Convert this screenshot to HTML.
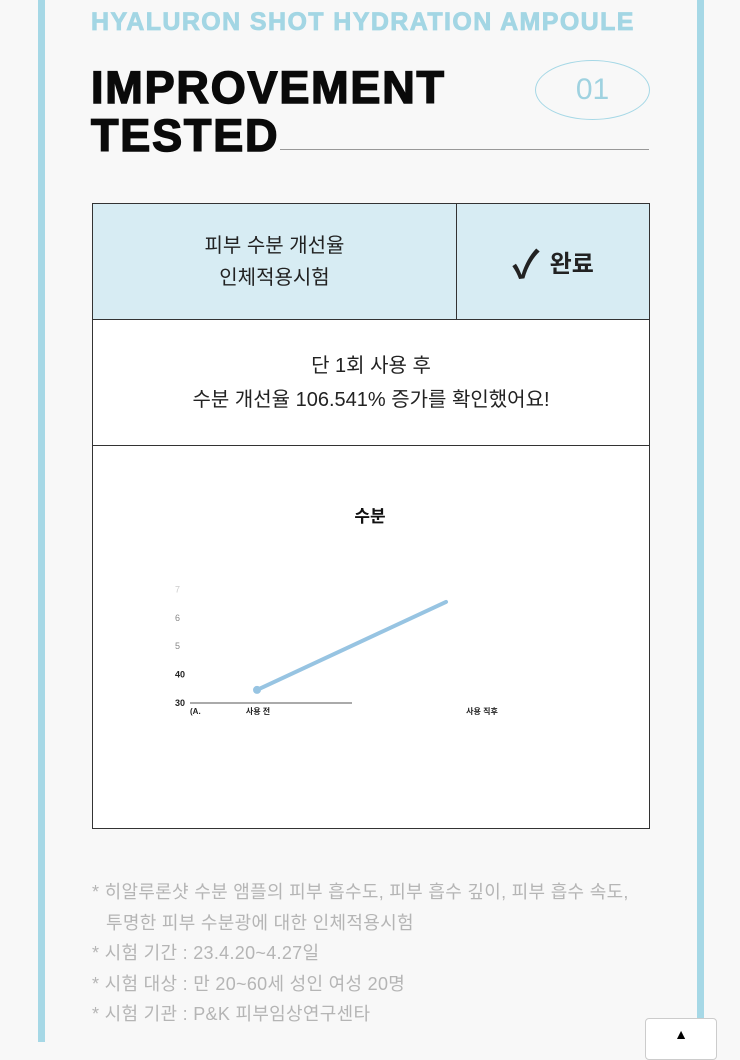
<!DOCTYPE html>
<html><head><meta charset="utf-8">
<style>
body{margin:0;width:740px;height:1042px;background:#f8f8f8;position:relative;overflow:hidden;font-family:"Liberation Sans","Noto Sans CJK KR",sans-serif}
.abs{position:absolute}
.bar{background:#a6d8e6;width:7px;top:0;height:1042px}
.cell{position:absolute;border:1px solid #333;box-sizing:border-box;display:flex;align-items:center;justify-content:center;text-align:center;color:#222}
.note{position:absolute;left:92px;color:#b5b5b5;font-size:18px;letter-spacing:0.3px;white-space:nowrap}
</style></head><body>
<div class="abs bar" style="left:38px"></div>
<div class="abs bar" style="left:697px"></div>
<div class="abs" style="left:91px;top:8px;font-size:25px;font-weight:bold;color:#a3d6e4;letter-spacing:1.4px;-webkit-text-stroke:0.8px #a3d6e4">HYALURON SHOT HYDRATION AMPOULE</div>
<div class="abs" style="left:91px;top:64px;font-size:45px;font-weight:900;line-height:48px;color:#0a0a0a;letter-spacing:1.8px;-webkit-text-stroke:1.5px #0a0a0a">IMPROVEMENT<br>TESTED</div>
<div class="abs" style="left:280px;top:149px;width:369px;height:1px;background:#999"></div>
<div class="abs" style="left:535px;top:60px;width:115px;height:60px;border:1.5px solid #a6d8e6;border-radius:50%;box-sizing:border-box;color:#9fd2e0;font-size:30px;display:flex;align-items:center;justify-content:center">01</div>

<div class="cell" style="left:92px;top:203px;width:365px;height:117px;background:#d7ecf3;font-size:20px;line-height:32px">피부 수분 개선율<br>인체적용시험</div>
<div class="cell" style="left:456px;top:203px;width:194px;height:117px;background:#d7ecf3;font-size:24px;font-weight:bold"><span style="font-size:38px;margin-right:10px">✓</span>완료</div>
<div class="cell" style="left:92px;top:319px;width:558px;height:127px;background:#fff;font-size:20px;line-height:34px">단 1회 사용 후<br>수분 개선율 106.541% 증가를 확인했어요!</div>
<div class="cell" style="left:92px;top:445px;width:558px;height:384px;background:#fff"></div>

<svg class="abs" style="left:0;top:0" width="740" height="1042">
<text x="370" y="522" text-anchor="middle" font-size="17" font-weight="bold" fill="#111">수분</text>
<g id="ticks"></g>
<line x1="190" y1="703" x2="352" y2="703" stroke="#555" stroke-width="1"/>
<text x="190" y="714" font-size="8" font-weight="bold" fill="#222">(A.</text>
<g id="xl"></g>
<g id="series"></g>
</svg>

<div class="note" style="top:878px">* 히알루론샷 수분 앰플의 피부 흡수도, 피부 흡수 깊이, 피부 흡수 속도,</div>
<div class="note" style="top:909px;left:106px">투명한 피부 수분광에 대한 인체적용시험</div>
<div class="note" style="top:939px">* 시험 기간 : 23.4.20~4.27일</div>
<div class="note" style="top:970px">* 시험 대상 : 만 20~60세 성인 여성 20명</div>
<div class="note" style="top:1000px">* 시험 기관 : P&amp;K 피부임상연구센타</div>
<div class="abs" style="left:645px;top:1018px;width:70px;height:40px;background:#fff;border:1px solid #ccc;border-radius:4px;text-align:center;font-size:14px;line-height:30px">▲</div>

<script>
const categories=["사용 전","사용 직후"];
const values=[34.6,65.6];
const yTicks=[30,40,50,60,70];
const yTickLabels=["30","40","5","6","7"];
const NS="http://www.w3.org/2000/svg";
const y=v=>703-(v-30)*2.84;
const xPos=[257,446];
const xLabelPos=[258,482];
const x=i=>xPos[i];
const tg=document.getElementById('ticks');
yTicks.forEach((t,i)=>{const e=document.createElementNS(NS,'text');


e.setAttribute('x',175);e.setAttribute('y',y(t)+3);e.setAttribute('font-size','9');
e.setAttribute('font-weight',i<2?'bold':'normal');e.setAttribute('fill',i<2?'#222':(i==4?'#ccc':'#888'));
e.textContent=yTickLabels[i];tg.appendChild(e);});
const xl=document.getElementById('xl');
categories.forEach((c,i)=>{const e=document.createElementNS(NS,'text');


e.setAttribute('x',xLabelPos[i]);e.setAttribute('y',714);e.setAttribute('font-size','8');e.setAttribute('font-weight','bold');
e.setAttribute('text-anchor','middle');e.setAttribute('fill','#222');e.textContent=c;xl.appendChild(e);});
const sg=document.getElementById('series');
const l=document.createElementNS(NS,'line');


l.setAttribute('x1',x(0));l.setAttribute('y1',y(values[0]));l.setAttribute('x2',x(1));l.setAttribute('y2',y(values[1]));
l.setAttribute('stroke','#97c4e2');l.setAttribute('stroke-width','4');l.setAttribute('stroke-linecap','round');sg.appendChild(l);
const p=document.createElementNS(NS,'circle');


p.setAttribute('cx',x(0));p.setAttribute('cy',y(values[0]));p.setAttribute('r','4');p.setAttribute('fill','#97c4e2');sg.appendChild(p);
</script>
</body></html>
